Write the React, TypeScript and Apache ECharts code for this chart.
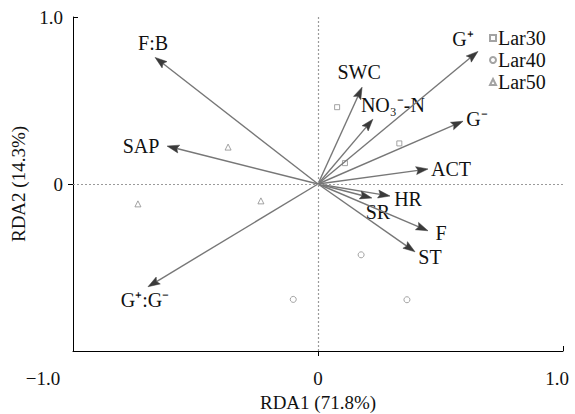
import React, { useEffect, useRef } from "react";
import * as echarts from "echarts";

// Environmental / microbial variable arrows (RDA loadings)
const varNames = ["F:B", "SAP", "SWC", "NO₃⁻-N", "G⁺", "G⁻", "ACT", "HR", "SR", "F", "ST", "G⁺:G⁻"];
const varX = [-0.665, -0.616, 0.18, 0.224, 0.653, 0.592, 0.449, 0.294, 0.22, 0.449, 0.396, -0.694];
const varY = [0.758, 0.227, 0.58, 0.388, 0.794, 0.376, 0.09, -0.072, -0.084, -0.28, -0.406, -0.615];

// Sample scores
const lar30 = [[0.078, 0.46], [0.11, 0.125], [0.332, 0.243]];
const lar40 = [[0.176, -0.424], [-0.101, -0.691], [0.363, -0.693]];
const lar50 = [[-0.367, 0.221], [-0.735, -0.119], [-0.233, -0.101]];

const xTicks = [-1, 0, 1];
const yTicks = [0, 1];

// label placement (pixels, relative to arrow tip) – styling only
const labelOffset: Record<string, [number, number]> = {
  "F:B": [-2, -14],
  SAP: [-26, 0],
  SWC: [-3, -15],
  "NO₃⁻-N": [20, -14],
  "G⁺": [-15, -12],
  "G⁻": [14, -2],
  ACT: [23, 0],
  HR: [18, 3],
  SR: [6, 14],
  F: [13, 2],
  ST: [15, 5],
  "G⁺:G⁻": [-3, 13],
};

const FONT = "'Liberation Serif', 'Times New Roman', serif";

function fmt(v: number) {
  if (v === 0) return "0";
  return (v < 0 ? "−" : "") + Math.abs(v).toFixed(1);
}

export default function App() {
  const ref = useRef<HTMLDivElement>(null);
  useEffect(() => {
    document.body.style.margin = "0";
    const chart = echarts.init(ref.current!, null, { renderer: "svg" });
    const arrowData = varNames.map((n, i) => [varX[i], varY[i], n]);
    const symStyle = { color: "#fff", borderColor: "#8c8c8c", borderWidth: 1 };
    chart.setOption({
      animation: false,
      backgroundColor: "#fff",
      textStyle: { fontFamily: FONT },
      grid: { left: 73, right: 12, top: 17, bottom: 63, containLabel: false, outerBoundsMode: "none" },
      legend: {
        orient: "vertical",
        left: 484,
        top: 23,
        itemWidth: 6,
        itemHeight: 6,
        itemGap: 2,
        textStyle: { fontFamily: FONT, fontSize: 20, color: "#111", lineHeight: 19, padding: [0, 0, 0, -3] },
        data: ["Lar30", "Lar40", "Lar50"],
      },
      xAxis: [
        {
          type: "value",
          min: -1,
          max: 1,
          interval: 1,
          name: "RDA1 (71.8%)",
          nameLocation: "middle",
          nameGap: 42,
          nameTextStyle: { fontFamily: FONT, fontSize: 19, color: "#111" },
          axisLine: { show: true, onZero: false, lineStyle: { color: "#000", width: 1 } },
          axisTick: { show: true, inside: false, length: 5, customValues: [0], lineStyle: { color: "#000" } },
          axisLabel: {
            fontFamily: FONT,
            fontSize: 19,
            color: "#111",
            margin: 18,
            customValues: xTicks,
            formatter: (v: number) => (v === -1 ? "{mn|" + fmt(v) + "}" : v === 1 ? "{mx|" + fmt(v) + "}" : fmt(v)),
            rich: {
              mn: { fontFamily: FONT, fontSize: 19, color: "#111", padding: [0, 60, 0, 0] },
              mx: { fontFamily: FONT, fontSize: 19, color: "#111", padding: [0, 12, 0, 0] },
            },
          },
          splitLine: { show: false },
        },
        {
          type: "value",
          min: -1,
          max: 1,
          interval: 1,
          position: "bottom",
          axisLine: { show: false, onZero: false },
          axisTick: { show: true, inside: true, length: 5, customValues: [1], lineStyle: { color: "#000" } },
          axisLabel: { show: false },
          splitLine: { show: false },
        },
      ],
      yAxis: [
        {
          type: "value",
          min: -1,
          max: 1,
          interval: 1,
          name: "RDA2 (14.3%)",
          nameLocation: "middle",
          nameGap: 40,
          nameTextStyle: { fontFamily: FONT, fontSize: 19, color: "#111" },
          axisLine: { show: true, onZero: false, lineStyle: { color: "#000", width: 1 } },
          axisTick: { show: true, inside: false, length: 5, customValues: [0], lineStyle: { color: "#000" } },
          axisLabel: {
            fontFamily: FONT,
            fontSize: 19,
            color: "#111",
            margin: 10,
            customValues: yTicks,
            formatter: (v: number) => fmt(v),
          },
          splitLine: { show: false },
        },
        {
          type: "value",
          min: -1,
          max: 1,
          interval: 1,
          position: "left",
          axisLine: { show: false, onZero: false },
          axisTick: { show: true, inside: true, length: 5, customValues: [1], lineStyle: { color: "#000" } },
          axisLabel: { show: false },
          splitLine: { show: false },
        },
      ],
      series: [
        {
          type: "custom",
          name: "arrows",
          clip: false,
          silent: true,
          data: arrowData,
          z: 3,
          renderItem: (params: any, api: any) => {
            const x = api.value(0);
            const y = api.value(1);
            const name = varNames[params.dataIndex];
            const p0 = api.coord([0, 0]);
            const p1 = api.coord([x, y]);
            const dx = p1[0] - p0[0];
            const dy = p1[1] - p0[1];
            const len = Math.sqrt(dx * dx + dy * dy);
            const ux = dx / len;
            const uy = dy / len;
            const hl = 12;
            const hw = 4;
            const bx = p1[0] - ux * hl;
            const by = p1[1] - uy * hl;
            const off = labelOffset[name] || [0, 0];
            return {
              type: "group",
              children: [
                {
                  type: "line",
                  shape: { x1: p0[0], y1: p0[1], x2: bx + ux * 2, y2: by + uy * 2 },
                  style: { stroke: "#777", lineWidth: 1.4 },
                },
                {
                  type: "polygon",
                  shape: {
                    points: [
                      [p1[0], p1[1]],
                      [bx - uy * hw, by + ux * hw],
                      [bx + ux * 2, by + uy * 2],
                      [bx + uy * hw, by - ux * hw],
                    ],
                  },
                  style: { fill: "#3a3a3a", stroke: "#3a3a3a", lineWidth: 0.5 },
                },
                {
                  type: "text",
                  x: p1[0] + off[0],
                  y: p1[1] + off[1],
                  style: {
                    text: name,
                    fontFamily: FONT,
                    fontSize: 20,
                    fill: "#111",
                    align: "center",
                    verticalAlign: "middle",
                  },
                },
              ],
            };
          },
        },
        {
          type: "scatter",
          name: "Lar30",
          symbol: "rect",
          symbolSize: 5,
          itemStyle: symStyle,
          data: lar30,
          z: 2,
          markLine: {
            silent: true,
            symbol: "none",
            label: { show: false },
            lineStyle: { color: "#9a9a9a", type: [2, 2], width: 1.2 },
            data: [{ xAxis: 0 }, { yAxis: 0 }],
          },
        },
        {
          type: "scatter",
          name: "Lar40",
          symbol: "circle",
          symbolSize: 6,
          itemStyle: symStyle,
          data: lar40,
          z: 2,
        },
        {
          type: "scatter",
          name: "Lar50",
          symbol: "triangle",
          symbolSize: 6,
          itemStyle: symStyle,
          data: lar50,
          z: 2,
        },
      ],
    });
    return () => chart.dispose();
  }, []);
  return <div ref={ref} style={{ width: 575, height: 414 }} />;
}
